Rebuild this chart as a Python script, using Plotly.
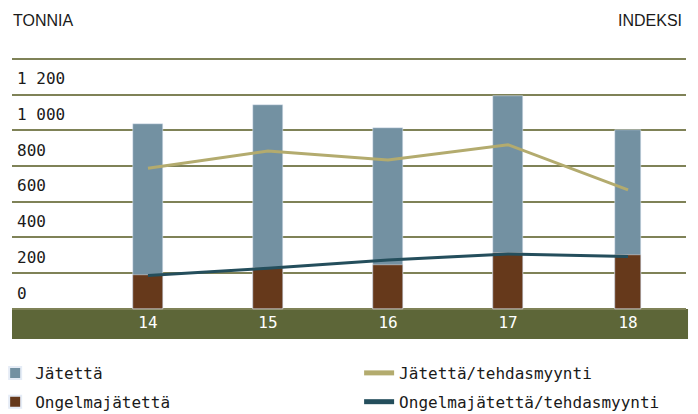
import plotly.graph_objects as go

years = [14, 15, 16, 17, 18]
year_labels = ["14", "15", "16", "17", "18"]
jatetta = [1035, 1141, 1012, 1191, 1001]          # total waste (t)
ongelmajatetta = [190, 231, 246, 313, 302]        # hazardous waste (t)
jatetta_idx = [787, 884, 833, 919, 666]           # waste / factory sales (index)
ongelma_idx = [188, 228, 274, 308, 293]           # hazardous waste / factory sales (index)
ytick_vals = [0, 200, 400, 600, 800, 1000, 1200, 1400]
ytick_text = ["0", "200", "400", "600", "800", "1 000", "1 200", ""]

C_BLUE = "#7391a2"
C_BROWN = "#66391b"
C_KHAKI = "#b3ab6e"
C_TEAL = "#244e5c"
C_BAND = "#5d6638"
C_GRID = "#7f8257"
MONO = "DejaVu Sans Mono"
SANS = "Liberation Sans"
Y_MIN, Y_MAX = -168, 1410
BAR_W = [0.25, 0.25, 0.25, 0.25, 0.217]

fig = go.Figure()
fig.add_trace(go.Bar(x=years, y=jatetta, name="Jätettä", marker_color=C_BLUE,
                     width=BAR_W, legend="legend", legendgroup="a"))
fig.add_trace(go.Bar(x=years, y=ongelmajatetta, name="Ongelmajätettä", marker_color=C_BROWN,
                     width=BAR_W, legend="legend", legendgroup="b"))
fig.add_trace(go.Scatter(x=years, y=jatetta_idx, name="Jätettä/tehdasmyynti", mode="lines",
                         line=dict(color=C_KHAKI, width=3), yaxis="y2",
                         legend="legend2", legendgroup="c"))
fig.add_trace(go.Scatter(x=years, y=ongelma_idx, name="Ongelmajätettä/tehdasmyynti", mode="lines",
                         line=dict(color=C_TEAL, width=3), yaxis="y2",
                         legend="legend2", legendgroup="d"))

legend_common = dict(orientation="v", xanchor="left", yref="container",
                     y=0.1429, yanchor="top", tracegroupgap=5,
                     font=dict(family=MONO, size=16, color="#1a1a1a"),
                     traceorder="grouped", itemsizing="constant",
                     bgcolor="rgba(0,0,0,0)")

# the page body has an 8px margin, so the figure is 8px smaller on each axis
fig.update_layout(
    width=690, height=406,
    margin=dict(l=4, r=12, t=49, b=75, autoexpand=False),
    paper_bgcolor="white", plot_bgcolor="white",
    barmode="overlay", bargap=0,
    showlegend=True,
    font=dict(family=MONO, size=16, color="#1a1a1a"),
    xaxis=dict(range=[12.867, 18.483], tickvals=years, ticktext=year_labels,
               showgrid=False, zeroline=False, showline=False, ticks="",
               ticklabelposition="inside", ticklabelstandoff=5,
               tickfont=dict(family=MONO, size=16, color="white"),
               fixedrange=True),
    yaxis=dict(range=[Y_MIN, Y_MAX], tickvals=ytick_vals, ticktext=ytick_text,
               showgrid=True, gridcolor=C_GRID, gridwidth=1.5, zeroline=False,
               showline=False, ticks="", ticklabelposition="inside",
               ticklabelshift=-16, ticklabelstandoff=2,
               tickfont=dict(family=MONO, size=16, color="#1a1a1a")),
    yaxis2=dict(range=[Y_MIN, Y_MAX], overlaying="y", side="right", visible=False),
    legend=dict(x=-0.025, **legend_common),
    legend2=dict(x=0.515, **legend_common),
    shapes=[dict(type="rect", xref="paper", yref="y", x0=0, x1=1.003,
                 y0=Y_MIN, y1=0, fillcolor=C_BAND, line_width=0, layer="between")],
    annotations=[
        dict(text="TONNIA", xref="paper", yref="paper", x=-0.002, y=1, yshift=37,
             xanchor="left", yanchor="middle", showarrow=False,
             font=dict(family=SANS, size=16, color="#1a1a1a")),
        dict(text="INDEKSI", xref="paper", yref="paper", x=0.997, y=1, yshift=37,
             xanchor="right", yanchor="middle", showarrow=False,
             font=dict(family=SANS, size=16, color="#1a1a1a")),
    ],
)

fig.write_html("out.html")
